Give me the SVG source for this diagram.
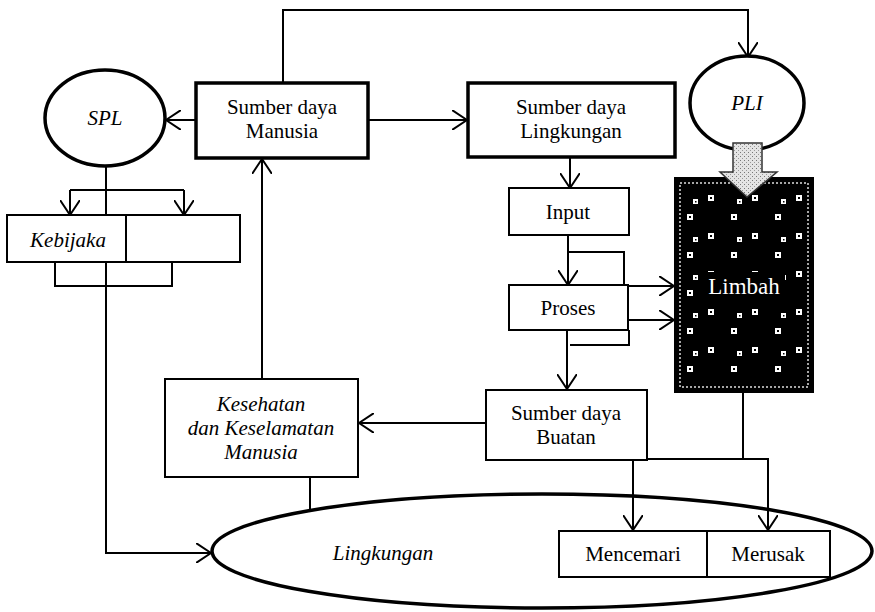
<svg xmlns="http://www.w3.org/2000/svg" width="875" height="612" viewBox="0 0 875 612">
<defs>
<marker id="ah" viewBox="0 0 16 20" refX="15" refY="10" markerWidth="16" markerHeight="20" markerUnits="userSpaceOnUse" orient="auto">
<path d="M0,0 L15,10 L0,20" fill="none" stroke="#000" stroke-width="2"/>
</marker>
<pattern id="dots" width="44" height="38" patternUnits="userSpaceOnUse">
<rect x="4" y="5" width="6" height="6" fill="#fff"/><rect x="6" y="7" width="2" height="2" fill="#000"/>
<rect x="27" y="24" width="6" height="6" fill="#fff"/><rect x="29" y="26" width="2" height="2" fill="#000"/>
<rect x="33" y="9" width="5" height="5" fill="#fff"/><rect x="35" y="11" width="1.5" height="1.5" fill="#000"/>
</pattern>
<pattern id="stip" width="4" height="4" patternUnits="userSpaceOnUse">
<rect width="4" height="4" fill="#e4e4e4"/><rect x="0" y="0" width="1" height="1" fill="#777"/><rect x="2" y="2" width="1" height="1" fill="#999"/>
</pattern>
</defs>
<style>
.t{font-family:"Liberation Serif","Times New Roman",serif;font-size:21px;fill:#000;text-anchor:middle}
.i{font-style:italic}
.thick{fill:#fff;stroke:#000;stroke-width:3.5}
.box{fill:#fff;stroke:#000;stroke-width:2}
.c{fill:none;stroke:#000;stroke-width:2}
.a{marker-end:url(#ah)}
</style>

<g id="connectors">
<path class="c a" d="M196,120 L166,120"/>
<path class="c a" d="M283,83 L283,10 L748,10 L748,57"/>
<path class="c a" d="M368,120 L467,120"/>
<path class="c a" d="M570,157 L570,188"/>
<path class="c a" d="M568,235 L568,285"/>
<path class="c" d="M568,252 L624,252 L624,285"/>
<path class="c a" d="M628,286 L674,286"/>
<path class="c a" d="M628,320 L674,320"/>
<path class="c" d="M629,330 L629,345 L570,345"/>
<path class="c a" d="M567,330 L567,389"/>
<path class="c a" d="M486,423 L359,423"/>
<path class="c a" d="M262,379 L262,159"/>
<path class="c" d="M310,477 L310,512"/>
<path class="c a" d="M106,167 L106,553 L211,553"/>
<path class="c" d="M55,252 L55,286 L172,286 L172,252"/>
<path class="c" d="M70,190 L184,190"/>
<path class="c a" d="M70,190 L70,215"/>
<path class="c a" d="M184,190 L184,215"/>
<path class="c a" d="M633,460 L633,530"/>
<path class="c" d="M743,392 L743,459"/>
<path class="c a" d="M647,459 L768,459 L768,530"/>
</g>

<g id="lingkungan">
<ellipse cx="542" cy="551" rx="330" ry="57" fill="none" stroke="#000" stroke-width="3.5"/>
<text class="t i" x="383" y="560">Lingkungan</text>
</g>

<g id="spl">
<ellipse cx="105" cy="118" rx="60" ry="48" class="thick"/>
<text class="t i" x="105" y="125">SPL</text>
</g>

<g id="sd-manusia">
<rect x="196" y="83" width="172" height="75" class="thick"/>
<text class="t" x="282" y="114">Sumber daya</text>
<text class="t" x="282" y="138">Manusia</text>
</g>

<g id="sd-lingkungan">
<rect x="468" y="83" width="207" height="74" class="thick"/>
<text class="t" x="571" y="114">Sumber daya</text>
<text class="t" x="571" y="138">Lingkungan</text>
</g>

<g id="pli">
<ellipse cx="747" cy="103" rx="57" ry="47" class="thick"/>
<text class="t i" x="747" y="110">PLI</text>
</g>

<g id="limbah">
<rect x="675" y="178" width="138" height="214" fill="#000" stroke="#000" stroke-width="2"/>
<rect x="683" y="186" width="122" height="198" fill="url(#dots)"/>
<rect x="680" y="183" width="128" height="204" fill="none" stroke="#ddd" stroke-width="1.5" stroke-dasharray="2 2"/>
<rect x="703" y="272" width="82" height="26" fill="#000"/>
<text class="t" x="744" y="294" style="font-size:23px;fill:#fff">Limbah</text>
</g>

<g id="fat-arrow">
<polygon points="733,143 762,143 762,172 777,172 747,197 720,172 733,172" fill="url(#stip)" stroke="#333" stroke-width="1.5"/>
</g>

<g id="kebijakan">
<rect x="7" y="215" width="119" height="47" class="box"/>
<rect x="126" y="215" width="114" height="47" class="box"/>
<text class="t i" x="68" y="247">Kebijaka</text>
</g>

<g id="input">
<rect x="509" y="188" width="120" height="47" class="box"/>
<text class="t" x="568" y="219">Input</text>
</g>

<g id="proses">
<rect x="509" y="285" width="119" height="45" class="box"/>
<text class="t" x="568" y="315">Proses</text>
</g>

<g id="sd-buatan">
<rect x="486" y="390" width="161" height="70" class="box"/>
<text class="t" x="566" y="420">Sumber daya</text>
<text class="t" x="566" y="444">Buatan</text>
</g>

<g id="kesehatan">
<rect x="165" y="379" width="193" height="98" class="box"/>
<text class="t i" x="261" y="411">Kesehatan</text>
<text class="t i" x="261" y="435">dan Keselamatan</text>
<text class="t i" x="261" y="459">Manusia</text>
</g>

<g id="mencemari">
<rect x="559" y="531" width="148" height="46" class="box"/>
<text class="t" x="633" y="561">Mencemari</text>
</g>

<g id="merusak">
<rect x="707" y="531" width="123" height="46" class="box"/>
<text class="t" x="768" y="561">Merusak</text>
</g>
</svg>
